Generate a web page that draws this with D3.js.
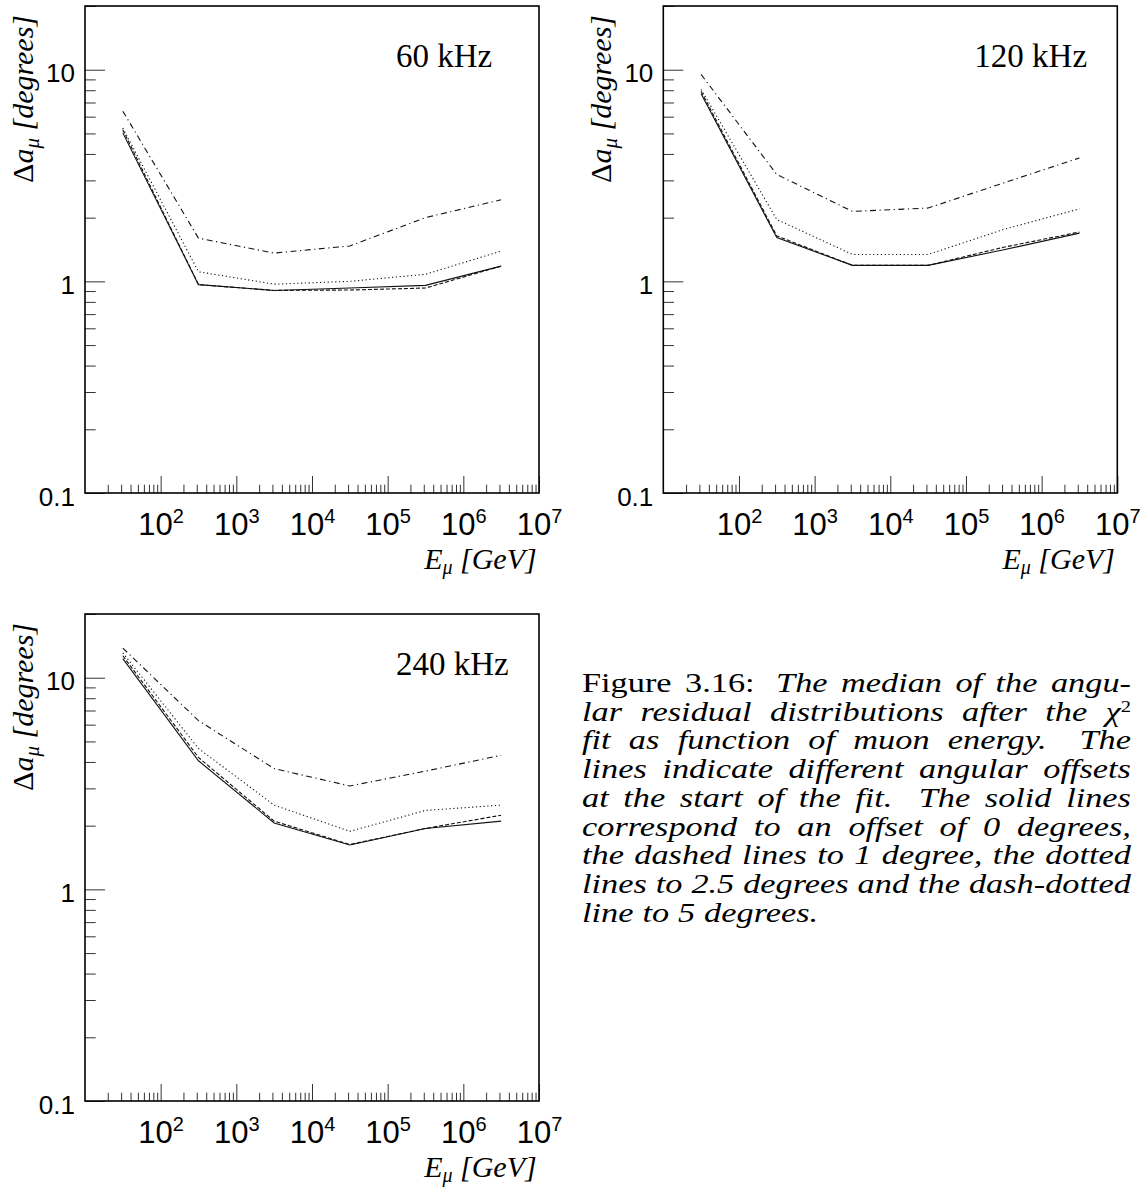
<!DOCTYPE html>
<html>
<head>
<meta charset="utf-8">
<script src="https://cdn.jsdelivr.net/npm/d3@7"></script>
<style>
  body { margin: 0; background: #fff; }
  svg { display: block; }
</style>
</head>
<body>
<svg id="fig" width="1145" height="1191"></svg>
<script>
// Muon energies [GeV] at which the median angular residual was evaluated
const energies = [31.6, 316, 3160, 31600, 316000, 3160000];

// Median angular residual [degrees], 60 kHz noise rate, per start offset
const res60_off0   = [5.03, 0.965, 0.906, 0.93, 0.957, 1.18];
const res60_off1   = [5.2, 0.965, 0.906, 0.91, 0.93, 1.18];
const res60_off2_5 = [5.3, 1.11, 0.97, 1.0, 1.08, 1.39];
const res60_off5   = [6.37, 1.60, 1.36, 1.47, 2.0, 2.43];

// 120 kHz
const res120_off0   = [7.7, 1.61, 1.19, 1.19, 1.41, 1.69];
const res120_off1   = [7.9, 1.64, 1.19, 1.19, 1.45, 1.71];
const res120_off2_5 = [8.07, 1.96, 1.34, 1.34, 1.76, 2.2];
const res120_off5   = [9.5, 3.2, 2.14, 2.22, 2.92, 3.83];

// 240 kHz
const res240_off0   = [12.3, 4.05, 2.06, 1.62, 1.94, 2.10];
const res240_off1   = [12.7, 4.2, 2.10, 1.63, 1.94, 2.24];
const res240_off2_5 = [13.1, 4.63, 2.50, 1.88, 2.36, 2.50];
const res240_off5   = [13.8, 6.27, 3.72, 3.08, 3.62, 4.30];

const rateLabels = ["60 kHz", "120 kHz", "240 kHz"];
const yTickValues = [0.1, 1, 10];
const xTickValues = [1e2, 1e3, 1e4, 1e5, 1e6, 1e7];

// caption, one entry per typeset line: [word, italic, gap weight before, superscript]
const captionLines = [
  [["Figure", false], ["3.16:", false], ["The", true, 1.6], ["median", true], ["of", true], ["the", true], ["angu-", true]],
  [["lar", true], ["residual", true], ["distributions", true], ["after", true], ["the", true], ["χ", true, 1, "2"]],
  [["fit", true], ["as", true], ["function", true], ["of", true], ["muon", true], ["energy.", true], ["The", true, 1.8]],
  [["lines", true], ["indicate", true], ["different", true], ["angular", true], ["offsets", true]],
  [["at", true], ["the", true], ["start", true], ["of", true], ["the", true], ["fit.", true], ["The", true, 1.8], ["solid", true], ["lines", true]],
  [["correspond", true], ["to", true], ["an", true], ["offset", true], ["of", true], ["0", true], ["degrees,", true]],
  [["the", true], ["dashed", true], ["lines", true], ["to", true], ["1", true], ["degree,", true], ["the", true], ["dotted", true]],
  [["lines", true], ["to", true], ["2.5", true], ["degrees", true], ["and", true], ["the", true], ["dash-dotted", true]],
  [["line", true], ["to", true], ["5", true], ["degrees.", true]]
];

const svg = d3.select("#fig");
const PW = 454, PH = 487;
const panels = [
  { x0: 85,    y0: 6,   label: rateLabels[0], series: [res60_off0, res60_off1, res60_off2_5, res60_off5] },
  { x0: 663.3, y0: 6,   label: rateLabels[1], series: [res120_off0, res120_off1, res120_off2_5, res120_off5] },
  { x0: 85,    y0: 614, label: rateLabels[2], series: [res240_off0, res240_off1, res240_off2_5, res240_off5] }
];
// solid, dashed, dotted, dash-dotted
const dashes = [null, "4 2", "1.2 2.6", "6 3.5 1.2 3.5"];

function minorTicks(lo, hi) {
  const out = [];
  for (let d = lo; d < hi; d *= 10)
    for (let k = 2; k <= 9; k++) {
      const v = d * k;
      if (v > lo && v < hi * 1.0001) out.push(v);
    }
  return out;
}

function styleAxis(g) {
  g.select(".domain").remove();
  g.selectAll(".tick line").attr("stroke", "#333").attr("stroke-width", 1);
}

function drawPanel(p) {
  const x = d3.scaleLog().domain([10, 1e7]).range([p.x0, p.x0 + PW]);
  const y = d3.scaleLog().domain([0.1, 20]).range([p.y0 + PH, p.y0]);
  const g = svg.append("g");

  // y axis: minor and major ticks pointing into the frame
  g.append("g").attr("transform", `translate(${p.x0},0)`)
    .call(d3.axisLeft(y).tickValues(minorTicks(0.1, 20)).tickSize(-10.7).tickFormat(""))
    .call(styleAxis);
  const ya = g.append("g").attr("transform", `translate(${p.x0},0)`)
    .call(d3.axisLeft(y).tickValues(yTickValues).tickSize(-20).tickPadding(10)
      .tickFormat(d => d < 1 ? "0.1" : String(d)))
    .call(styleAxis);
  ya.attr("font-family", null).attr("font-size", null);
  ya.selectAll("text")
    .attr("font-family", "'Liberation Sans', Arial, sans-serif")
    .attr("font-size", 26).attr("fill", "#000").attr("dy", "0.47em");

  // x axis
  g.append("g").attr("transform", `translate(0,${p.y0 + PH})`)
    .call(d3.axisBottom(x).tickValues(minorTicks(10, 1e7)).tickSize(-8.3).tickFormat(""))
    .call(styleAxis);
  const xa = g.append("g").attr("transform", `translate(0,${p.y0 + PH})`)
    .call(d3.axisBottom(x).tickValues(xTickValues).tickSize(-17).tickPadding(20))
    .call(styleAxis);
  xa.attr("font-family", null).attr("font-size", null);
  xa.selectAll("text")
    .attr("font-family", "'Liberation Sans', Arial, sans-serif")
    .attr("font-size", 31).attr("fill", "#000")
    .each(function (d) {
      const t = d3.select(this).text(null);
      t.append("tspan").text("10");
      t.append("tspan").attr("font-size", 20).attr("dy", -12).text(Math.round(Math.log10(d)));
    });

  // curves
  const line = d3.line().x((d, i) => x(energies[i])).y(d => y(d));
  p.series.forEach((vals, si) => {
    g.append("path").datum(vals)
      .attr("d", line)
      .attr("fill", "none")
      .attr("stroke", "#111")
      .attr("stroke-width", 1.1)
      .attr("stroke-dasharray", dashes[si]);
  });

  // frame
  g.append("rect")
    .attr("x", p.x0).attr("y", p.y0).attr("width", PW).attr("height", PH)
    .attr("fill", "none").attr("stroke", "#000").attr("stroke-width", 1.6);

  // noise rate label
  g.append("text")
    .attr("x", p.x0 + 311).attr("y", p.y0 + 61)
    .attr("font-family", "'Liberation Serif', 'Times New Roman', serif")
    .attr("font-size", 33).attr("fill", "#000")
    .text(p.label);

  // y title
  const yt = g.append("text")
    .attr("transform", `translate(${p.x0 - 52},${p.y0 + 9}) rotate(-90)`)
    .attr("text-anchor", "end")
    .attr("font-family", "'Liberation Serif', 'Times New Roman', serif")
    .attr("font-size", 30).attr("fill", "#000");
  yt.append("tspan").text("Δ");
  yt.append("tspan").attr("font-style", "italic").text("a");
  yt.append("tspan").attr("font-style", "italic").attr("font-size", 21).attr("dy", 6).text("μ");
  yt.append("tspan").attr("font-style", "italic").attr("dy", -6).text(" [degrees]");

  // x title
  const xt = g.append("text")
    .attr("x", p.x0 + PW - 2.3).attr("y", p.y0 + PH + 76)
    .attr("text-anchor", "end")
    .attr("font-family", "'Liberation Serif', 'Times New Roman', serif")
    .attr("font-size", 30).attr("fill", "#000");
  xt.append("tspan").attr("font-style", "italic").text("E");
  xt.append("tspan").attr("font-style", "italic").attr("font-size", 20).attr("dy", 5).text("μ");
  xt.append("tspan").attr("font-style", "italic").attr("dy", -5).text(" [GeV]");
}

panels.forEach(drawPanel);

// justified caption block; glyphs are widened by a common factor so the
// lines fill the column with ordinary word spaces
const capLeft = 582, capRight = 1131, capTop = 692, capLead = 28.7, capSize = 28;
const cap = svg.append("g")
  .attr("font-family", "'Liberation Serif', 'Times New Roman', serif")
  .attr("font-size", capSize).attr("fill", "#000");
const laid = captionLines.map((words, li) => {
  const row = cap.append("g");
  const nodes = words.map(w => {
    const t = row.append("text").attr("font-style", w[1] ? "italic" : "normal");
    t.append("tspan").text(w[0]);
    if (w[3]) t.append("tspan").attr("font-style", "normal").attr("font-size", capSize * 0.6).attr("dy", -9).text(w[3]);
    return { t, w: t.node().getComputedTextLength(), gap: w[2] || 1 };
  });
  return { row, nodes, total: d3.sum(nodes, n => n.w), weights: d3.sum(nodes.slice(1), n => n.gap) };
});
const space = capSize * 0.26;
const stretch = d3.min(laid.slice(0, -1), L => (capRight - capLeft) / (L.total + L.weights * space));
laid.forEach((L, li) => {
  const last = li === laid.length - 1;
  const width = (capRight - capLeft) / stretch;
  const unit = last ? space : (width - L.total) / L.weights;
  L.row.attr("transform", `translate(${capLeft},${capTop + li * capLead}) scale(${stretch},1)`);
  let cx = 0;
  L.nodes.forEach((n, i) => {
    if (i > 0) cx += unit * n.gap;
    n.t.attr("x", cx);
    cx += n.w;
  });
});
</script>
</body>
</html>
